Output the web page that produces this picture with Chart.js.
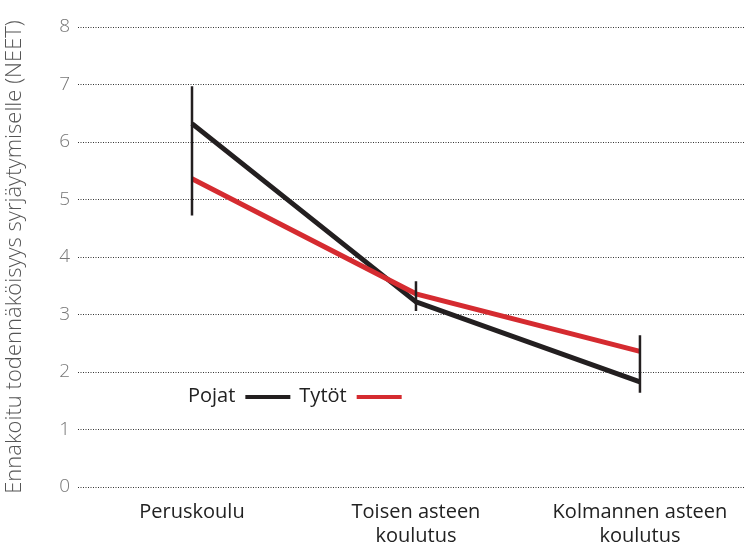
<!DOCTYPE html>
<html>
<head>
<meta charset="utf-8">
<script src="https://cdn.jsdelivr.net/npm/chart.js@4"></script>
<style>
html,body{margin:0;padding:0;background:#fff;}
#wrap{width:745px;height:543px;position:relative;}
</style>
</head>
<body>
<div id="wrap"><canvas id="c" width="745" height="543"></canvas></div>
<script>
const categories = [["Peruskoulu"], ["Toisen asteen", "koulutus"], ["Kolmannen asteen", "koulutus"]];
const pojat = [6.32, 3.22, 1.83];
const tytot = [5.36, 3.36, 2.36];
const errLow = [4.72, 3.06, 1.64];
const errHigh = [6.97, 3.58, 2.64];
const yTicks = [0, 1, 2, 3, 4, 5, 6, 7, 8];
const seriesNames = ["Pojat", "Tytöt"];
const yTitle = "Ennakoitu todennäköisyys syrjäytymiselle (NEET)";

const BLACK = '#231f20';
const RED = '#d52b30';
const FONT = "'Open Sans', sans-serif";

const errData = [];
errLow.forEach((lo, i) => {
  errData.push({x: i, y: lo}, {x: i, y: errHigh[i]}, {x: i, y: null});
});

const legendPlugin = {
  id: 'customLegend',
  afterDraw(chart) {
    const ctx = chart.ctx;
    ctx.save();
    ctx.font = "400 20px " + FONT;
    ctx.textBaseline = 'middle';
    const y = 396;
    let x = 188;
    const cols = [BLACK, RED];
    seriesNames.forEach((n, i) => {
      ctx.fillStyle = '#222';
      ctx.fillText(n, x, y);
      x += ctx.measureText(n).width + 10;
      ctx.strokeStyle = cols[i];
      ctx.lineWidth = 4;
      ctx.beginPath();
      ctx.moveTo(x, y + 1);
      ctx.lineTo(x + 45, y + 1);
      ctx.stroke();
      x += 45 + 9;
    });
    ctx.restore();
  }
};

new Chart(document.getElementById('c'), {
  type: 'line',
  data: {
    datasets: [
      {label: seriesNames[0], data: pojat.map((v, i) => ({x: i, y: v})), borderColor: BLACK, borderWidth: 5, pointRadius: 0, tension: 0, order: 2},
      {label: seriesNames[1], data: tytot.map((v, i) => ({x: i, y: v})), borderColor: RED, borderWidth: 5, pointRadius: 0, tension: 0, order: 1},
      {label: 'err', data: errData, borderColor: BLACK, borderWidth: 2.5, pointRadius: 0, spanGaps: false, order: 0}
    ]
  },
  options: {
    responsive: false,
    animation: false,
    layout: {padding: {top: 27, right: 0, bottom: 0, left: 0}},
    plugins: {legend: {display: false}, tooltip: {enabled: false}},
    scales: {
      x: {
        type: 'linear',
        min: -0.509,
        max: 2.469,
        afterBuildTicks(axis) { axis.ticks = categories.map((c, i) => ({value: i})); },
        afterFit(axis) { axis.height = 56; },
        ticks: {
          callback: (v) => categories[v],
          color: '#222',
          font: {family: FONT, size: 20, lineHeight: 1.2},
          padding: 5,
          maxRotation: 0,
          autoSkip: false
        },
        grid: {display: false},
        border: {display: false}
      },
      y: {
        min: 0,
        max: 8,
        afterBuildTicks(axis) { axis.ticks = yTicks.map(v => ({value: v})); },
        afterFit(axis) { axis.width = 78; },
        ticks: {
          color: '#777',
          font: {family: FONT, size: 19, weight: 300},
          padding: 8
        },
        grid: {color: '#333', lineWidth: 1, drawTicks: false},
        border: {display: false, dash: [1, 1.5]},
        title: {
          display: true,
          text: yTitle,
          color: '#555',
          font: {family: FONT, size: 22, weight: 300},
          padding: {top: 2, bottom: 0}
        }
      }
    }
  },
  plugins: [legendPlugin]
});
</script>
</body>
</html>
